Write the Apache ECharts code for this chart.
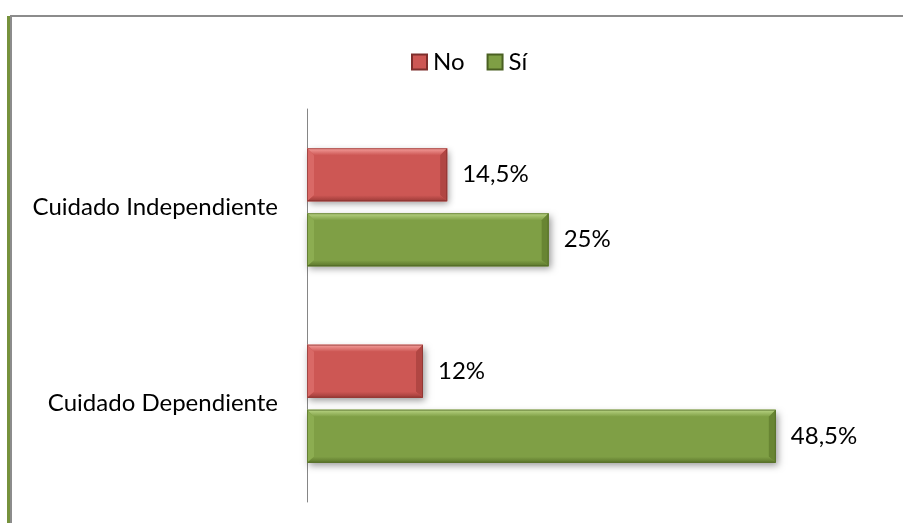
<!DOCTYPE html>
<html>
<head>
<meta charset="utf-8">
<script src="https://cdn.jsdelivr.net/npm/echarts@6/dist/echarts.min.js"></script>
<style>
  html, body { margin: 0; padding: 0; background: #fff; }
  #chart { width: 903px; height: 523px; }
</style>
</head>
<body>
<div id="chart"></div>
<script>
// Care type categories (top to bottom) and percentages per answer
const categories = ['Cuidado Independiente', 'Cuidado Dependiente'];
const seriesNames = ['No', 'Sí'];
const valuesNo = [14.5, 12];
const valuesSi = [25, 48.5];
const labelsNo = ['14,5%', '12%'];
const labelsSi = ['25%', '48,5%'];

const FONT = 'Lato, "Open Sans", sans-serif';
const FONT_SIZE = 24;

// Bevelled bar palettes
const palettes = {
  No: {
    face: '#CD5754', top: '#F5A09D', left: '#D96966', right: '#B14643',
    bottom: '#9C3B38', edge: '#7E2E2C'
  },
  'Sí': {
    face: '#7F9F45', top: '#BAD585', left: '#8CAD51', right: '#688533',
    bottom: '#5B752B', edge: '#4A6022'
  }
};

const BAR_H = 53;     // bar thickness in px
const BAR_GAP = 12;   // gap between the two bars of a category
const BEVEL = 7;

function bevelBar(name, offset, labels) {
  const pal = palettes[name];
  return function (params, api) {
    const v = api.value(0);
    const idx = api.value(1);
    const p0 = api.coord([0, idx]);
    const p1 = api.coord([v, idx]);
    const x0 = p0[0], x1 = p1[0];
    const cy = p0[1] + offset;
    const y0 = cy - BAR_H / 2, y1 = cy + BAR_H / 2;
    const b = Math.min(BEVEL, (x1 - x0) / 2);
    const bb = BEVEL - 1;
    return {
      type: 'group',
      children: [
        { // drop shadow
          type: 'rect',
          shape: { x: x0, y: y0, width: x1 - x0, height: BAR_H },
          style: { fill: pal.face, shadowColor: 'rgba(0,0,0,0.4)', shadowBlur: 7, shadowOffsetX: 2, shadowOffsetY: 3 }
        },
        { // face
          type: 'rect',
          shape: { x: x0, y: y0, width: x1 - x0, height: BAR_H },
          style: { fill: pal.face }
        },
        { // top bevel
          type: 'polygon',
          shape: { points: [[x0, y0], [x1, y0], [x1 - b, y0 + b], [x0 + b, y0 + b]] },
          style: {
            fill: { type: 'linear', x: 0, y: 0, x2: 0, y2: 1,
              colorStops: [{ offset: 0, color: pal.top }, { offset: 1, color: pal.face }] }
          }
        },
        { // left bevel
          type: 'polygon',
          shape: { points: [[x0, y0], [x0 + b, y0 + b], [x0 + b, y1 - bb], [x0, y1]] },
          style: { fill: pal.left }
        },
        { // right bevel
          type: 'polygon',
          shape: { points: [[x1, y0], [x1, y1], [x1 - b, y1 - bb], [x1 - b, y0 + b]] },
          style: { fill: pal.right }
        },
        { // bottom bevel
          type: 'polygon',
          shape: { points: [[x0, y1], [x0 + b, y1 - bb], [x1 - b, y1 - bb], [x1, y1]] },
          style: {
            fill: { type: 'linear', x: 0, y: 0, x2: 0, y2: 1,
              colorStops: [{ offset: 0, color: pal.face }, { offset: 1, color: pal.bottom }] }
          }
        },
        { // outline
          type: 'rect',
          shape: { x: x0 + 0.5, y: y0 + 0.5, width: x1 - x0 - 1, height: BAR_H - 1 },
          style: { fill: null, stroke: pal.edge, lineWidth: 1, opacity: 0.6 }
        },
        { // value label
          type: 'text',
          x: x1 + 15,
          y: cy,
          style: {
            text: labels[params.dataIndex],
            fontFamily: FONT,
            fontSize: FONT_SIZE,
            fill: '#000',
            verticalAlign: 'middle',
            align: 'left'
          }
        }
      ]
    };
  };
}

const half = (BAR_H + BAR_GAP) / 2;

const chart = echarts.init(document.getElementById('chart'), null, { renderer: 'canvas' });

chart.setOption({
  animation: false,
  backgroundColor: '#fff',
  textStyle: { fontFamily: FONT },
  legend: {
    data: seriesNames,
    top: 45,
    left: 406,
    icon: 'rect',
    itemWidth: 15,
    itemHeight: 15,
    itemGap: 22,
    textStyle: { fontFamily: FONT, fontSize: FONT_SIZE, color: '#000', padding: [0, 0, 0, 1] }
  },
  grid: { left: 307, right: 16, top: 109, bottom: 21, containLabel: false },
  xAxis: {
    type: 'value',
    min: 0,
    max: 60,
    show: false,
    splitLine: { show: false }
  },
  yAxis: {
    type: 'category',
    data: categories,
    inverse: true,
    axisLine: { show: true, lineStyle: { color: '#868686', width: 1 } },
    axisTick: { show: false },
    axisLabel: { margin: 29, fontFamily: FONT, fontSize: FONT_SIZE, color: '#000' }
  },
  series: [
    {
      name: 'No',
      type: 'custom',
      encode: { x: 0, y: 1 },
      data: valuesNo.map((v, i) => [v, i]),
      itemStyle: { color: palettes.No.face, borderColor: palettes.No.edge, borderWidth: 1 },
      renderItem: bevelBar('No', -half, labelsNo)
    },
    {
      name: 'Sí',
      type: 'custom',
      encode: { x: 0, y: 1 },
      data: valuesSi.map((v, i) => [v, i]),
      itemStyle: { color: palettes['Sí'].face, borderColor: palettes['Sí'].edge, borderWidth: 1 },
      renderItem: bevelBar('Sí', half, labelsSi)
    }
  ],
  graphic: [
    // outer frame: top grey rule, left green + grey rules
    { type: 'rect', silent: true, shape: { x: 10, y: 15, width: 893, height: 2 }, style: { fill: '#8C8C8C' } },
    { type: 'rect', silent: true, shape: { x: 7, y: 16, width: 3, height: 507 }, style: { fill: '#76923C' } },
    { type: 'rect', silent: true, shape: { x: 10, y: 16, width: 2, height: 507 }, style: { fill: '#8C8C8C' } }
  ]
});
</script>
</body>
</html>
